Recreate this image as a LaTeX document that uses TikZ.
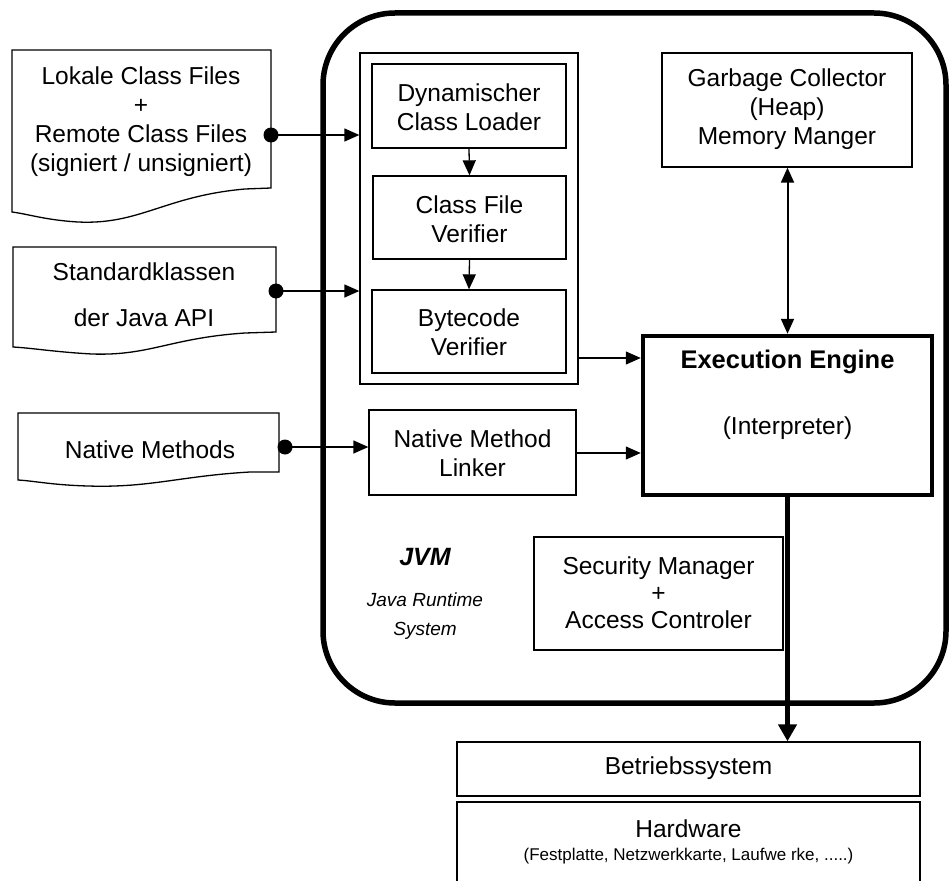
\documentclass[tikz,border=0pt]{standalone}
\usepackage{fontspec}
\setmainfont{Liberation Sans}
\usetikzlibrary{arrows.meta}
\begin{document}
\begin{tikzpicture}[x=1pt,y=-1pt,
  box/.style={draw,line width=1.3pt,inner sep=0pt},
  doc/.style={draw,line width=1.3pt},
  txt/.style={align=center,font=\fontsize{24.5}{29}\selectfont,inner sep=0pt},
  arr/.style={line width=1.3pt,-{Triangle[length=15pt,width=13pt]}},
  dbl/.style={line width=2pt,{Triangle[length=15pt,width=13pt]}-{Triangle[length=15pt,width=13pt]}},
  thickarr/.style={line width=5pt,-{Triangle[length=17pt,width=18pt]}},
  dot/.style={circle,fill,inner sep=0pt,minimum size=15pt}]
\useasboundingbox (0,0) rectangle (952,880);

% JVM border
\draw[line width=5.5pt,rounded corners=72pt] (323,13) rectangle (946,703);

% documents
\draw[doc] (12,50) -- (271,50) -- (271,188) -- (245,189)
  .. controls (165,196) and (140,225) .. (78,222)
  .. controls (45,220) and (28,214) .. (12,212) -- cycle;
\node[txt] (lok) at (141,122) {Lokale Class Files\\+\\Remote Class Files\\(signiert / unsigniert)};

\draw[doc] (13,247) -- (276,247) -- (276,332) -- (245,333)
  .. controls (170,338) and (150,356) .. (92,354)
  .. controls (55,352) and (32,348) .. (13,347) -- cycle;
\node[txt] (std) at (144,295) {Standardklassen\\[17pt]der Java API};

\draw[doc] (18,413) -- (279,413) -- (279,472) -- (250,472)
  .. controls (180,476) and (150,488) .. (88,486)
  .. controls (52,485) and (35,481) .. (18,480) -- cycle;
\node[txt] (nat) at (150,450) {Native Methods};

\node[dot] (d1) at (271,135) {};
\node[dot] (d2) at (276,291) {};
\node[dot] (d3) at (285,447) {};

% class loader frame
\node[box,minimum width=218pt,minimum height=331pt] (frame) at (469,218.5) {};
\node[box,minimum width=194pt,minimum height=84pt] (cl) at (469,106) {};
\node[txt] (clt) at (469,107.5) {Dynamischer\\Class Loader};
\node[box,minimum width=193pt,minimum height=83pt] (cfv) at (469.5,217.5) {};
\node[txt] (cfvt) at (469.5,219) {Class File\\Verifier};
\node[box,minimum width=194pt,minimum height=83pt] (bcv) at (469,331.5) {};
\node[txt] (bcvt) at (469,332) {Bytecode\\Verifier};

\node[box,minimum width=207pt,minimum height=85pt] (nml) at (472.5,452.5) {};
\node[txt] (nmlt) at (472.5,453.5) {Native Method\\Linker};

\node[box,minimum width=250pt,minimum height=114pt] (gc) at (787,110) {};
\node[txt] (gct) at (787,109.5) {Garbage Collector\\(Heap)\\Memory Manger};

\node[draw,line width=4.5pt,minimum width=289pt,minimum height=159pt] (ee) at (787.5,415.5) {};
\node[txt,font=\fontsize{25.5}{29}\selectfont\bfseries] (eet) at (787.5,362) {Execution Engine};
\node[txt] (eei) at (787.5,428) {(Interpreter)};

\node[box,minimum width=249pt,minimum height=113pt] (sec) at (658.5,593.5) {};
\node[txt,font=\fontsize{24.5}{27}\selectfont] (sect) at (658.5,593) {Security Manager\\+\\Access Controler};

\node[txt,font=\fontsize{25}{29}\selectfont\bfseries\itshape] (jvm) at (425,557) {JVM};
\node[txt,font=\fontsize{19}{22}\selectfont\itshape] (jrs) at (425,600) {Java Runtime};
\node[txt,font=\fontsize{19}{22}\selectfont\itshape] (sys) at (425,631) {System};

\node[box,minimum width=463pt,minimum height=54pt] (bs) at (688.5,769) {};
\node[txt] (bst) at (688.5,768) {Betriebssystem};
\node[box,minimum width=463pt,minimum height=82pt] (hw) at (688.5,843) {};
\node[txt] (hwt) at (688.5,829) {Hardware};
\node[txt,font=\fontsize{17}{20}\selectfont] (hws) at (688.5,856) {(Festplatte, Netzwerkkarte, Laufwe rke, .....)};

% connectors
\draw[arr] (d1.center) -- (d1 -| frame.west);
\draw[arr] (d2.center) -- (d2 -| frame.west);
\draw[arr] (d3.center) -- (d3 -| nml.west);
\draw[arr] (cl.south) -- (cfv.north);
\draw[arr] (cfv.south) -- (bcv.north);
\coordinate (y1) at (0,358);
\coordinate (y2) at (0,453);
\draw[arr] (frame.east |- y1) -- (ee.west |- y1);
\draw[arr] (nml.east |- y2) -- (ee.west |- y2);
\draw[dbl] (gc.south -| ee.north) -- (ee.north);
\draw[thickarr] (ee.south) -- (ee.south |- bs.north);
\end{tikzpicture}
\end{document}
